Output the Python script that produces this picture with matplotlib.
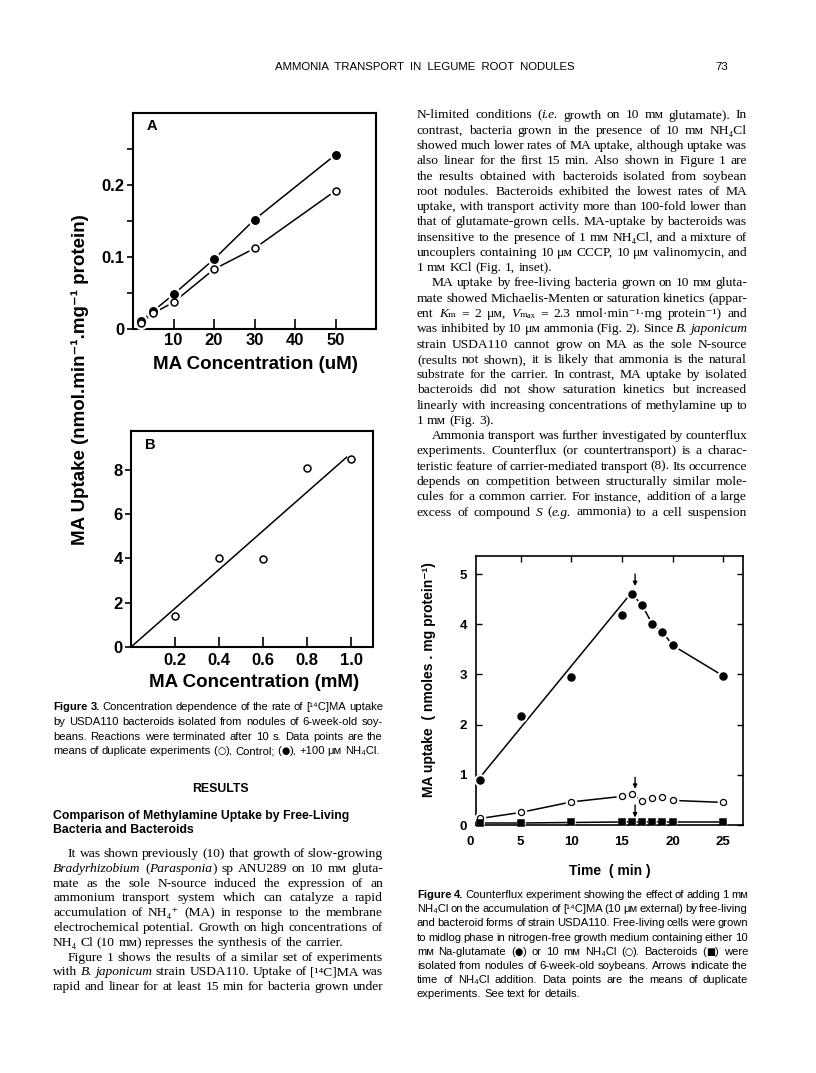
import matplotlib

matplotlib.use("Agg")
import matplotlib.pyplot as plt
from matplotlib.transforms import ScaledTranslation, blended_transform_factory

W, H = 816, 1073
SANS = ["Liberation Sans", "DejaVu Sans"]
SERIF = ["Liberation Serif", "DejaVu Serif", "DejaVu Sans"]
SYMBOLS = "○●■"
plt.rcParams["font.family"] = SANS

# Figure 3A: uptake vs MA concentration (uM)
conc_um = [2, 5, 10, 20, 30, 50]
uptake_nh4cl = [0.011, 0.025, 0.048, 0.097, 0.152, 0.242]
uptake_control = [0.008, 0.022, 0.037, 0.083, 0.112, 0.192]

# Figure 3B: uptake vs MA concentration (mM)
conc_mm = [0.2, 0.4, 0.6, 0.8, 1.0]
uptake_mm = [1.4, 4.0, 3.95, 8.1, 8.5]
fit_range_mm = [0.0, 0.98]

# Figure 4: counterflux time course
time_min = [1, 5, 10, 15, 16, 17, 18, 19, 20, 25]
glutamate = [0.90, 2.18, 2.95, 4.18, 4.60, 4.38, 4.00, 3.85, 3.58, 2.97]
nh4cl_grown = [0.13, 0.25, 0.46, 0.57, 0.61, 0.48, 0.54, 0.55, 0.49, 0.45]
bacteroids = [0.04, 0.04, 0.05, 0.06, 0.06, 0.06, 0.06, 0.06, 0.06, 0.06]
glutamate_trend_t = [1.2, 15.5]
glutamate_trend_y = [1.0, 4.52]
arrow_time = 16.3
arrow_from = [5.0, 0.95, 0.40]
arrow_to = [4.76, 0.72, 0.15]

header = "AMMONIA  TRANSPORT  IN  LEGUME  ROOT  NODULES"
page_no = "73"

# (indent first line, justify last line, lines)
right_body = [
    (False, False, [
        "N-limited conditions (~i.e.~ growth on 10 mᴍ glutamate). In",
        "contrast, bacteria grown in the presence of 10 mᴍ NH₄Cl",
        "showed much lower rates of MA uptake, although uptake was",
        "also linear for the first 15 min. Also shown in Figure 1 are",
        "the results obtained with bacteroids isolated from soybean",
        "root nodules. Bacteroids exhibited the lowest rates of MA",
        "uptake, with transport activity more than 100-fold lower than",
        "that of glutamate-grown cells. MA-uptake by bacteroids was",
        "insensitive to the presence of 1 mᴍ NH₄Cl, and a mixture of",
        "uncouplers containing 10 μᴍ CCCP, 10 μᴍ valinomycin, and",
        "1 mᴍ KCl (Fig. 1, inset).",
    ]),
    (True, False, [
        "MA uptake by free-living bacteria grown on 10 mᴍ gluta-",
        "mate showed Michaelis-Menten or saturation kinetics (appar-",
        "ent ~K~ₘ = 2 μᴍ, ~V~ₘₐₓ = 2.3 nmol·min⁻¹·mg protein⁻¹) and",
        "was inhibited by 10 μᴍ ammonia (Fig. 2). Since ~B. japonicum~",
        "strain USDA110 cannot grow on MA as the sole N-source",
        "(results not shown), it is likely that ammonia is the natural",
        "substrate for the carrier. In contrast, MA uptake by isolated",
        "bacteroids did not show saturation kinetics but increased",
        "linearly with increasing concentrations of methylamine up to",
        "1 mᴍ (Fig. 3).",
    ]),
    (True, True, [
        "Ammonia transport was further investigated by counterflux",
        "experiments. Counterflux (or countertransport) is a charac-",
        "teristic feature of carrier-mediated transport (8). Its occurrence",
        "depends on competition between structurally similar mole-",
        "cules for a common carrier. For instance, addition of a large",
        "excess of compound ~S~ (~e.g.~ ammonia) to a cell suspension",
    ]),
]

left_body = [
    (True, False, [
        "It was shown previously (10) that growth of slow-growing",
        "~Bradyrhizobium~ (~Parasponia~) sp ANU289 on 10 mᴍ gluta-",
        "mate as the sole N-source induced the expression of an",
        "ammonium transport system which can catalyze a rapid",
        "accumulation of NH₄⁺ (MA) in response to the membrane",
        "electrochemical potential. Growth on high concentrations of",
        "NH₄ Cl (10 mᴍ) represses the synthesis of the carrier.",
    ]),
    (True, True, [
        "Figure 1 shows the results of a similar set of experiments",
        "with ~B. japonicum~ strain USDA110. Uptake of [¹⁴C]MA was",
        "rapid and linear for at least 15 min for bacteria grown under",
    ]),
]

caption3 = [
    "#Figure 3.# Concentration dependence of the rate of [¹⁴C]MA uptake",
    "by USDA110 bacteroids isolated from nodules of 6-week-old soy-",
    "beans. Reactions were terminated after 10 s. Data points are the",
    "means of duplicate experiments (○), Control; (●), +100 μᴍ NH₄Cl.",
]

caption4 = [
    "#Figure 4.# Counterflux experiment showing the effect of adding 1 mᴍ",
    "NH₄Cl on the accumulation of [¹⁴C]MA (10 μᴍ external) by free-living",
    "and bacteroid forms of strain USDA110. Free-living cells were grown",
    "to midlog phase in nitrogen-free growth medium containing either 10",
    "mᴍ Na-glutamate (●) or 10 mᴍ NH₄Cl (○). Bacteroids (■) were",
    "isolated from nodules of 6-week-old soybeans. Arrows indicate the",
    "time of NH₄Cl addition. Data points are the means of duplicate",
    "experiments. See text for details.",
]

fig = plt.figure(figsize=(W / 100, H / 100), dpi=100)
renderer = fig.canvas.get_renderer()


def fx(x):
    return x / W


def fy(y):
    return 1 - y / H


def add_box(left, top, right, bottom):
    return fig.add_axes([fx(left), fy(bottom), (right - left) / W, (bottom - top) / H])


def word_runs(line):
    # ~ toggles italic, # toggles bold; marker symbols become their own run
    italic = bold = False
    words = []
    for token in line.split(" "):
        runs, buf = [], ""
        for ch in token:
            if ch in "~#" or ch in SYMBOLS:
                if buf:
                    runs.append((buf, italic, bold, False))
                    buf = ""
                if ch == "~":
                    italic = not italic
                elif ch == "#":
                    bold = not bold
                else:
                    runs.append((ch, False, False, True))
            else:
                buf += ch
        if buf:
            runs.append((buf, italic, bold, False))
        if runs:
            words.append(runs)
    return words


def draw_line(line, x0, x1, y, size, family, justify=True):
    pieces = []
    for runs in word_runs(line):
        placed = []
        for text, it, bd, sym in runs:
            t = fig.text(0, 0, text, fontsize=size * (0.85 if sym else 1),
                         family=["DejaVu Sans"] if sym else family,
                         style="italic" if it else "normal",
                         weight="bold" if bd else "normal",
                         ha="left", va="baseline")
            placed.append((t, t.get_window_extent(renderer=renderer).width))
        pieces.append(placed)
    widths = [sum(w for _, w in p) for p in pieces]
    em = size * 100 / 72
    min_space = em * 0.18
    natural = sum(widths) + min_space * (len(pieces) - 1)
    if justify and natural > x1 - x0:
        # line too long for the column: set it a touch smaller
        for placed in pieces:
            for t, _ in placed:
                t.remove()
        draw_line(line, x0, x1, y, size * (x1 - x0) / natural * 0.998, family, justify)
        return
    space = em * 0.25
    if justify and len(pieces) > 1:
        space = (x1 - x0 - sum(widths)) / (len(pieces) - 1)
    x = x0
    for placed, ww in zip(pieces, widths):
        for t, w in placed:
            t.set_position((fx(x), fy(y)))
            x += w
        x += space


def draw_column(paras, x0, x1, y0, step, size, family, indent):
    i = 0
    for first_indent, justify_last, lines in paras:
        for k, line in enumerate(lines):
            left = x0 + (indent if (k == 0 and first_indent) else 0)
            last = k == len(lines) - 1
            draw_line(line, left, x1, y0 + i * step, size, family,
                      justify=(justify_last or not last))
            i += 1


def draw_caption(lines, x0, x1, y0, step, size):
    for k, line in enumerate(lines):
        draw_line(line, x0, x1, y0 + k * step, size, SANS,
                  justify=(k < len(lines) - 1))


def bold_ticks(ax):
    for lbl in ax.get_xticklabels() + ax.get_yticklabels():
        lbl.set_fontweight("bold")


def gapped(ax, x, y, marker, ms, face, halo, connect=True, mew=1.1):
    if connect:
        ax.plot(x, y, "-", color="black", lw=1.1, zorder=2, clip_on=False)
    ax.plot(x, y, linestyle="none", marker="o", ms=ms + halo, mfc="white",
            mec="white", zorder=3, clip_on=False)
    ax.plot(x, y, linestyle="none", marker=marker, ms=ms, mfc=face,
            mec="black", mew=mew, zorder=4, clip_on=False)


# ---------------- page header ----------------
fig.text(fx(425), fy(70), header, fontsize=8.2, family=SANS, ha="center", va="baseline")
fig.text(fx(728), fy(70), page_no, fontsize=8.2, family=SANS, ha="right", va="baseline")

# ---------------- Figure 3A ----------------
ax_a = add_box(133, 113, 376, 329)
gapped(ax_a, conc_um, uptake_nh4cl, "o", 5.3, "black", 3.5)
gapped(ax_a, conc_um, uptake_control, "o", 5.0, "white", 3.5)
ax_a.set_xlim(0, 60)
ax_a.set_ylim(0, 0.3)
ax_a.set_xticks([10, 20, 30, 40, 50])
ax_a.set_yticks([0, 0.05, 0.1, 0.15, 0.2, 0.25])
ax_a.set_yticklabels(["0", "", "0.1", "", "0.2", ""])
ax_a.tick_params(axis="x", direction="in", length=7, width=1.2, pad=3, labelsize=12)
ax_a.tick_params(axis="y", direction="out", length=4.5, width=1.2, pad=1.5, labelsize=12)
ax_a.text(0.078, 0.938, "A", transform=ax_a.transAxes, fontsize=10.5,
          weight="bold", ha="center", va="center")
ax_a.set_xlabel("MA Concentration (uM)", fontsize=13.5, weight="bold")
ax_a.xaxis.set_label_coords(0.502, -0.125)

# ---------------- Figure 3B ----------------
ax_b = add_box(131, 431, 373, 647)
slope_b = sum(a * b for a, b in zip(conc_mm, uptake_mm)) / sum(a * a for a in conc_mm)
ax_b.plot(fit_range_mm, [slope_b * v for v in fit_range_mm], "-", color="black", lw=1.1, zorder=2)
ax_b.plot(conc_mm, uptake_mm, linestyle="none", marker="o", ms=5.0, mfc="white",
          mec="black", mew=1.1, zorder=4, clip_on=False)
ax_b.set_xlim(0, 1.1)
ax_b.set_ylim(0, 9.75)
ax_b.set_xticks([0.2, 0.4, 0.6, 0.8, 1.0])
ax_b.set_xticklabels(["0.2", "0.4", "0.6", "0.8", "1.0"])
ax_b.set_yticks([0, 2, 4, 6, 8])
ax_b.tick_params(axis="x", direction="in", length=7, width=1.2, pad=4, labelsize=12)
ax_b.tick_params(axis="y", direction="out", length=4.5, width=1.2, pad=1.5, labelsize=12)
ax_b.text(0.078, 0.935, "B", transform=ax_b.transAxes, fontsize=10.5,
          weight="bold", ha="center", va="center")
ax_b.set_xlabel("MA Concentration (mM)", fontsize=13.5, weight="bold")
ax_b.xaxis.set_label_coords(0.51, -0.125)

for ax in (ax_a, ax_b):
    for sp in ax.spines.values():
        sp.set_linewidth(1.5)
    bold_ticks(ax)

fig.text(fx(80), fy(380), "MA Uptake (nmol.min⁻¹.mg⁻¹ protein)", rotation=90,
         fontsize=13.5, weight="bold", family=SANS, ha="center", va="center")

# ---------------- Figure 4 ----------------
ax4 = add_box(476, 556, 743, 825)
ax4.plot(glutamate_trend_t, glutamate_trend_y, "-", color="black", lw=1.1, zorder=2)
ax4.plot(time_min[4:], glutamate[4:], "-", color="black", lw=1.1, zorder=2)
gapped(ax4, time_min, glutamate, "o", 5.0, "black", 3.0, connect=False)
gapped(ax4, time_min, nh4cl_grown, "o", 4.4, "white", 3.0, mew=0.9)
gapped(ax4, time_min, bacteroids, "s", 4.2, "black", 1.0)
for y0, y1 in zip(arrow_from, arrow_to):
    ax4.annotate("", xy=(arrow_time, y1), xytext=(arrow_time, y0),
                 arrowprops=dict(arrowstyle="-|>", color="black", lw=1.0,
                                 mutation_scale=6, shrinkA=0, shrinkB=0), zorder=5)
ax4.set_xlim(0.6, 26.95)
ax4.set_ylim(0, 5.36)
ax4.set_xticks([5, 10, 15, 20, 25])
ax4.set_yticks([0, 1, 2, 3, 4, 5])
ax4.tick_params(direction="in", length=4, width=1.0, top=True, right=True,
                labelsize=9.5)
ax4.tick_params(axis="x", pad=8)
ax4.tick_params(axis="y", pad=6.5)
# the time-zero label sits just left of the frame, where no tick is drawn
ax4.text(0, 0, "0", fontsize=9.5, weight="bold", ha="center", va="top",
         transform=blended_transform_factory(ax4.transData, ax4.transAxes)
         + ScaledTranslation(0, -8 / 72, fig.dpi_scale_trans), clip_on=False)
for sp in ax4.spines.values():
    sp.set_linewidth(1.2)
bold_ticks(ax4)
ax4.set_xlabel("Time  ( min )", fontsize=10, weight="bold")
ax4.xaxis.set_label_coords(0.5, -0.145)
fig.text(fx(429), fy(680), "MA uptake  ( nmoles . mg protein⁻¹)", rotation=90,
         fontsize=10, weight="bold", family=SANS, ha="center", va="center")

# ---------------- text blocks ----------------
draw_column(right_body, 417, 747, 118.5, 15.27, 9.7, SERIF, 15)
draw_column(left_body, 53, 383, 857, 14.8, 9.7, SERIF, 15)
draw_caption(caption3, 53, 383, 710, 14.8, 8.1)
draw_caption(caption4, 417, 748, 898, 14.2, 8.1)

fig.text(fx(220), fy(792), "RESULTS", fontsize=8.8, weight="bold", family=SANS,
         ha="center", va="baseline")
fig.text(fx(53), fy(818.5), "Comparison of Methylamine Uptake by Free-Living",
         fontsize=8.8, weight="bold", family=SANS, ha="left", va="baseline")
fig.text(fx(53), fy(833), "Bacteria and Bacteroids",
         fontsize=8.8, weight="bold", family=SANS, ha="left", va="baseline")

fig.savefig("out.png", dpi=100)
